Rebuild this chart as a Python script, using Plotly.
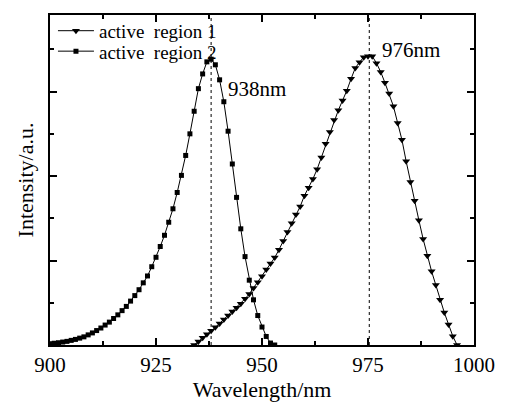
import plotly.graph_objects as go

# Wavelength (nm) and intensity (a.u.)
wl_region1 = list(range(934, 997))
int_region1 = [0, 3.5, 7.5, 11, 14.5, 18, 22, 26, 30, 34, 38, 42, 47, 52, 58, 64, 70, 77, 83, 89,
               97, 106, 115, 124, 133, 141, 152, 160, 169, 179, 191, 205, 217, 229, 239, 249,
               259, 271, 282, 288, 293, 294, 294, 287, 278, 267, 256, 243, 226, 209, 187, 166,
               147, 127, 108, 91, 75, 61, 46, 33, 21, 9, 0]

wl_region2 = list(range(900, 954))
int_region2 = [1.3, 1.8, 2.3, 3.0, 3.7, 4.7, 5.7, 7.0, 8.3, 10.3, 12.3, 14.7, 17.3, 20.3, 23.3, 27,
               30.7, 35, 39.3, 44.7, 50.3, 56.3, 63.3, 70.3, 79.7, 89.3, 100.3, 111.7, 125, 138.7,
               155.3, 172.7, 193, 215, 238, 261, 276, 288.3, 291, 285.3, 270, 247.7, 217.7, 184.3,
               150.3, 118.3, 90, 66, 46, 30, 18.3, 8.7, 2, 0]

peak_lines = [938, 975.3]
peak_labels = ["938nm", "976nm"]
peak_label_pos = [(941.6, 261), (977.8, 300)]

x_ticks = [900, 925, 950, 975, 1000]

FONT = "Liberation Serif"

fig = go.Figure()
fig.add_trace(go.Scatter(
    x=wl_region1, y=int_region1, mode="lines+markers", name="active  region 1",
    line=dict(color="black", width=1),
    marker=dict(symbol="triangle-down", size=7, color="black"),
    legend="legend",
))
fig.add_trace(go.Scatter(
    x=wl_region2, y=int_region2, mode="lines+markers", name="active  region 2",
    line=dict(color="black", width=1),
    marker=dict(symbol="square", size=5, color="black"),
    legend="legend2",
))

for xv in peak_lines:
    fig.add_shape(type="line", x0=xv, x1=xv, y0=0, y1=1, xref="x", yref="y domain",
                  line=dict(color="black", width=1, dash="dot"), layer="below")

for txt, (xa, ya) in zip(peak_labels, peak_label_pos):
    fig.add_annotation(x=xa, y=ya, text=txt, showarrow=False, xanchor="left", yanchor="middle",
                       font=dict(family=FONT, size=21, color="black"))

legend_common = dict(xanchor="left", yanchor="middle", bgcolor="rgba(0,0,0,0)",
                     font=dict(family=FONT, size=19, color="black"), itemwidth=36,
                     borderwidth=0)

fig.update_layout(
    width=507, height=407,
    margin=dict(l=50, r=30, t=15, b=56),
    paper_bgcolor="white", plot_bgcolor="white",
    font=dict(family=FONT, size=21, color="black"),
    showlegend=True,
    legend=dict(x=0.007, y=0.952, **legend_common),
    legend2=dict(x=0.007, y=0.890, **legend_common),
)
fig.update_xaxes(
    range=[900, 1000], tickvals=x_ticks, ticktext=[str(v) for v in x_ticks],
    ticks="inside", ticklen=7, tickwidth=1.5, tickcolor="black",
    minor=dict(ticks="inside", ticklen=4, tickwidth=1.5, tickcolor="black", dtick=12.5, tick0=900),
    showline=True, linecolor="black", linewidth=2, mirror="ticks",
    showgrid=False, zeroline=False,
    title=dict(text="Wavelength/nm", font=dict(family=FONT, size=22), standoff=2),
    tickfont=dict(family=FONT, size=21),
)
fig.update_yaxes(
    range=[0, 336], tick0=0, dtick=86, showticklabels=False,
    ticks="inside", ticklen=7, tickwidth=1.5, tickcolor="black",
    minor=dict(ticks="inside", ticklen=4, tickwidth=1.5, tickcolor="black", dtick=43, tick0=0),
    showline=True, linecolor="black", linewidth=2, mirror="ticks",
    showgrid=False, zeroline=False,
    title=dict(text="Intensity/a.u.", font=dict(family=FONT, size=22), standoff=8),
)

fig.write_html("out.html", config={"displayModeBar": False},
               post_script="document.body.style.margin='0px';")
